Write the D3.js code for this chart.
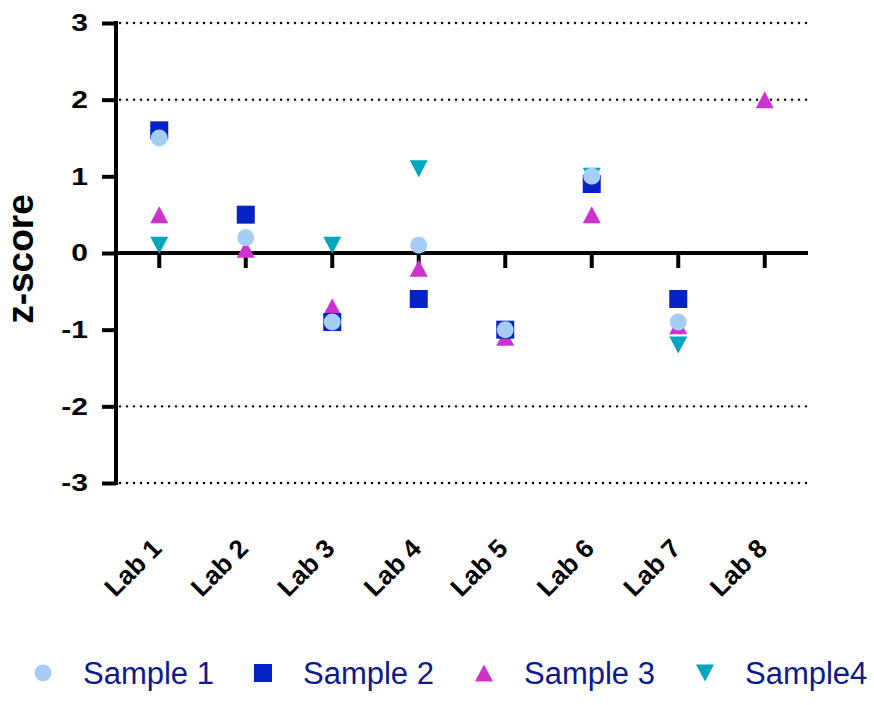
<!DOCTYPE html>
<html>
<head>
<meta charset="utf-8">
<script src="https://cdn.jsdelivr.net/npm/d3@7"></script>
<style>
  html, body { margin: 0; padding: 0; background: #fff; }
  svg { display: block; }
  text { font-family: "Liberation Sans", Arial, sans-serif; }
</style>
</head>
<body>
<svg id="chart" width="874" height="705"></svg>
<script>
// Lab categories along the x axis
const labs = ["Lab 1", "Lab 2", "Lab 3", "Lab 4", "Lab 5", "Lab 6", "Lab 7", "Lab 8"];

// z-scores per sample (null = no result reported)
const sample1 = [1.5, 0.2, -0.9, 0.1, -1.0, 1.0, -0.9, null];
const sample2 = [1.6, 0.5, -0.9, -0.6, -1.0, 0.9, -0.6, null];
const sample3 = [0.5, 0.05, -0.7, -0.2, -1.1, 0.5, -0.95, 2.0];
const sample4 = [0.1, null, 0.1, 1.1, null, 1.0, -1.2, null];

const yTicks = [-3, -2, -1, 0, 1, 2, 3];
const gridValues = [-3, -2, 2, 3];

const series = [
  { name: "Sample 1", values: sample1, shape: "circle", color: "#a6cdf6" },
  { name: "Sample 2", values: sample2, shape: "square", color: "#0323c6" },
  { name: "Sample 3", values: sample3, shape: "up", color: "#cc33cc" },
  { name: "Sample4",  values: sample4, shape: "down", color: "#00a6bf" }
];

const svg = d3.select("#chart");
const plotLeft = 116, plotRight = 808, plotTop = 23, plotBottom = 483;

const x = d3.scaleBand().domain(labs).range([plotLeft, plotRight]);
const y = d3.scaleLinear().domain([-3, 3]).range([plotBottom, plotTop]);

// isosceles triangles, pointing up or down, sized by their width
const triangleUp = {
  draw(ctx, size) {
    const w = Math.sqrt(size), h = w * 0.94;
    ctx.moveTo(0, -h / 2); ctx.lineTo(w / 2, h / 2); ctx.lineTo(-w / 2, h / 2); ctx.closePath();
  }
};
const triangleDown = {
  draw(ctx, size) {
    const w = Math.sqrt(size), h = w * 0.94;
    ctx.moveTo(0, h / 2); ctx.lineTo(w / 2, -h / 2); ctx.lineTo(-w / 2, -h / 2); ctx.closePath();
  }
};
const symbolType = { circle: d3.symbolCircle, square: d3.symbolSquare, up: triangleUp, down: triangleDown };
const symbolSize = { circle: 227, square: 324, up: 324, down: 324 };
const symbolPath = shape => d3.symbol().type(symbolType[shape]).size(symbolSize[shape])();

// dotted reference lines
svg.append("g").selectAll("line").data(gridValues).join("line")
  .attr("x1", plotLeft + 4).attr("x2", plotRight)
  .attr("y1", d => y(d)).attr("y2", d => y(d))
  .attr("stroke", "#000").attr("stroke-width", 2.4)
  .attr("stroke-linecap", "round")
  .attr("stroke-dasharray", "0.1 6.9");

// y axis
const yAxis = svg.append("g")
  .attr("transform", `translate(${plotLeft},0)`)
  .attr("font-family", null)
  .call(d3.axisLeft(y).tickValues(yTicks).tickSize(14).tickPadding(16).tickFormat(d => String(d)));
yAxis.attr("font-family", null);
yAxis.select(".domain").attr("stroke", "#000").attr("stroke-width", 4).attr("d", `M0,${plotTop - 2}V${plotBottom + 2}`);
yAxis.selectAll(".tick line").attr("stroke", "#000").attr("stroke-width", 4);
// tick numbers are set a little wide
yAxis.selectAll(".tick text")
  .attr("font-weight", "bold").attr("font-size", 24).attr("fill", "#000")
  .attr("x", -28 / 1.25)
  .attr("transform", "scale(1.25,1)");

// zero line with category ticks
const xAxis = svg.append("g")
  .attr("transform", `translate(0,${y(0)})`)
  .call(d3.axisBottom(x).tickSize(15).tickFormat(""));
xAxis.select(".domain").attr("stroke", "#000").attr("stroke-width", 4).attr("d", `M${plotLeft},0H${plotRight}`);
xAxis.selectAll(".tick line").attr("stroke", "#000").attr("stroke-width", 4);

// category labels at the bottom, rotated
svg.append("g").selectAll("text").data(labs).join("text")
  .attr("transform", d => `translate(${x(d) + x.bandwidth() / 2 + 4},${plotBottom + 67}) rotate(-45)`)
  .attr("text-anchor", "end")
  .attr("font-weight", "bold").attr("font-size", 26)
  .text(d => d);

// y axis title
svg.append("text")
  .attr("transform", `translate(33,259) rotate(-90)`)
  .attr("text-anchor", "middle")
  .attr("font-weight", "bold").attr("font-size", 37)
  .text("z-score");

// points: later series drawn first so Sample 1 sits on top
const drawOrder = [series[3], series[2], series[1], series[0]];
drawOrder.forEach(s => {
  const pts = labs.map((l, i) => ({ lab: l, v: s.values[i] })).filter(p => p.v !== null);
  svg.append("g").selectAll("path").data(pts).join("path")
    .attr("d", symbolPath(s.shape))
    .attr("fill", s.color)
    .attr("transform", p => `translate(${x(p.lab) + x.bandwidth() / 2},${y(p.v)})`);
});

// legend
const legendX = [43, 263, 484, 705];
const legend = svg.append("g").selectAll("g").data(series).join("g")
  .attr("transform", (d, i) => `translate(${legendX[i]},673)`);
legend.append("path")
  .attr("d", d => symbolPath(d.shape))
  .attr("fill", d => d.color);
legend.append("text")
  .attr("x", 40).attr("y", 11)
  .attr("font-size", 31).attr("fill", "#0c1a8c")
  .text(d => d.name);
</script>
</body>
</html>
